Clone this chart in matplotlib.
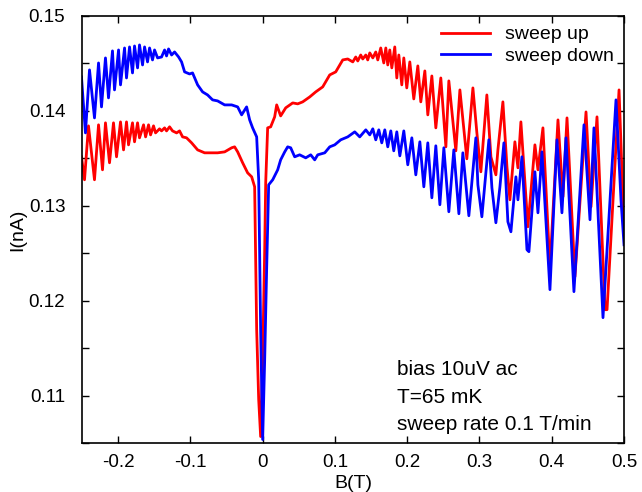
import numpy as np
import matplotlib
matplotlib.use("Agg")
import matplotlib.pyplot as plt

plt.rcParams['font.family'] = ['Liberation Sans', 'DejaVu Sans']

# sweep up (red)
b_up = [-0.2507, -0.2465, -0.2410, -0.2327, -0.2271, -0.2216, -0.2175, -0.2119, -0.2064, -0.2022,
        -0.1967, -0.1925, -0.1884, -0.1856, -0.1801, -0.1773, -0.1731, -0.1704, -0.1648, -0.1620,
        -0.1579, -0.1551, -0.1510, -0.1482, -0.1427, -0.1399, -0.1357, -0.1330, -0.1288, -0.1247,
        -0.1191, -0.1150, -0.1108, -0.1053, -0.0983, -0.0900, -0.0803, -0.0706, -0.0623, -0.0526,
        -0.0429, -0.0388, -0.0346, -0.0277, -0.0208, -0.0152, -0.0111, -0.0083, -0.0055, -0.0028,
        0.0, 0.0028, 0.0042, 0.0069, 0.0111, 0.0166, 0.0194, 0.0249, 0.0319, 0.0416,
        0.0485, 0.0554, 0.0651, 0.0734, 0.0831, 0.0928, 0.1011, 0.1108, 0.1177, 0.1247,
        0.1288, 0.1316, 0.1357, 0.1385, 0.1427, 0.1454, 0.1482, 0.1524, 0.1565, 0.1593,
        0.1634, 0.1676, 0.1704, 0.1731, 0.1759, 0.1787, 0.1828, 0.1856, 0.1884, 0.1925,
        0.1953, 0.1994, 0.2036, 0.2091, 0.2147, 0.2188, 0.2244, 0.2285, 0.2341, 0.2396,
        0.2465, 0.2535, 0.2576, 0.2673, 0.2729, 0.2825, 0.2909, 0.2964, 0.3019, 0.3102,
        0.3158, 0.3227, 0.3255, 0.3324, 0.3380, 0.3421, 0.3490, 0.3532, 0.3573, 0.3670,
        0.3767, 0.3809, 0.3878, 0.3975, 0.4086, 0.4155, 0.4211, 0.4321, 0.4474, 0.4543,
        0.4626, 0.4737, 0.4765, 0.4931, 0.5000]
i_up = [0.13516, 0.13274, 0.13842, 0.13274, 0.13853, 0.13379, 0.13874, 0.13453, 0.13874, 0.13516,
        0.13884, 0.13589, 0.13884, 0.13642, 0.13874, 0.13674, 0.13874, 0.13716, 0.13853, 0.13726,
        0.13853, 0.13747, 0.13842, 0.13768, 0.13811, 0.13789, 0.13821, 0.13789, 0.13832, 0.13789,
        0.13768, 0.13789, 0.13726, 0.13716, 0.13663, 0.13589, 0.13558, 0.13558, 0.13558, 0.13568,
        0.13611, 0.13621, 0.13568, 0.13453, 0.13347, 0.13305, 0.13200, 0.11695, 0.10958, 0.10568,
        0.11379, 0.12537, 0.13242, 0.13821, 0.13832, 0.13937, 0.14063, 0.13947, 0.14032, 0.14084,
        0.14074, 0.14095, 0.14147, 0.14200, 0.14253, 0.14379, 0.14411, 0.14537, 0.14547, 0.14516,
        0.14568, 0.14526, 0.14589, 0.14547, 0.14589, 0.14537, 0.14611, 0.14558, 0.14621, 0.14537,
        0.14663, 0.14505, 0.14663, 0.14484, 0.14642, 0.14453, 0.14674, 0.14347, 0.14589, 0.14274,
        0.14558, 0.14242, 0.14516, 0.14126, 0.14474, 0.14095, 0.14421, 0.13958, 0.14368, 0.13821,
        0.14347, 0.13621, 0.14316, 0.13579, 0.14221, 0.13495, 0.14242, 0.13768, 0.13358, 0.14168,
        0.13516, 0.13326, 0.13589, 0.14095, 0.13411, 0.13063, 0.13674, 0.13400, 0.13884, 0.12779,
        0.13642, 0.13379, 0.13821, 0.12347, 0.13905, 0.13095, 0.13926, 0.12253, 0.13989, 0.12989,
        0.13937, 0.11905, 0.11905, 0.14221, 0.12747]

# sweep down (blue)
b_down = [-0.2507, -0.2452, -0.2396, -0.2327, -0.2271, -0.2230, -0.2175, -0.2133, -0.2078, -0.2050,
          -0.1994, -0.1967, -0.1911, -0.1884, -0.1842, -0.1801, -0.1773, -0.1731, -0.1704, -0.1662,
          -0.1634, -0.1593, -0.1565, -0.1524, -0.1496, -0.1454, -0.1399, -0.1357, -0.1330, -0.1302,
          -0.1260, -0.1219, -0.1163, -0.1122, -0.1080, -0.1011, -0.0970, -0.0900, -0.0831, -0.0762,
          -0.0693, -0.0623, -0.0526, -0.0429, -0.0346, -0.0291, -0.0222, -0.0180, -0.0139, -0.0083,
          -0.0055, -0.0028, 0.0, 0.0028, 0.0055, 0.0083, 0.0139, 0.0208, 0.0249, 0.0305,
          0.0346, 0.0388, 0.0443, 0.0512, 0.0596, 0.0665, 0.0720, 0.0762, 0.0859, 0.0928,
          0.0997, 0.1080, 0.1177, 0.1274, 0.1343, 0.1427, 0.1482, 0.1524, 0.1565, 0.1607,
          0.1648, 0.1690, 0.1731, 0.1773, 0.1814, 0.1856, 0.1898, 0.1953, 0.2008, 0.2064,
          0.2119, 0.2175, 0.2230, 0.2285, 0.2341, 0.2396, 0.2452, 0.2507, 0.2576, 0.2645,
          0.2715, 0.2770, 0.2853, 0.2950, 0.2978, 0.3033, 0.3130, 0.3172, 0.3227, 0.3283,
          0.3338, 0.3393, 0.3435, 0.3504, 0.3532, 0.3587, 0.3657, 0.3684, 0.3767, 0.3809,
          0.3864, 0.3975, 0.4072, 0.4141, 0.4197, 0.4307, 0.4446, 0.4529, 0.4584, 0.4709,
          0.4889, 0.4958, 0.5000]
i_down = [0.14358, 0.13768, 0.14432, 0.13926, 0.14505, 0.14042, 0.14558, 0.14137, 0.14632, 0.14221,
          0.14642, 0.14274, 0.14663, 0.14347, 0.14674, 0.14400, 0.14684, 0.14453, 0.14695, 0.14484,
          0.14674, 0.14516, 0.14663, 0.14537, 0.14642, 0.14558, 0.14568, 0.14642, 0.14579, 0.14653,
          0.14589, 0.14621, 0.14568, 0.14516, 0.14411, 0.14389, 0.14400, 0.14274, 0.14200, 0.14168,
          0.14116, 0.14105, 0.14063, 0.14063, 0.14042, 0.13958, 0.14042, 0.13905, 0.13821, 0.13726,
          0.13274, 0.11695, 0.10537, 0.11379, 0.12326, 0.13221, 0.13274, 0.13379, 0.13484, 0.13568,
          0.13621, 0.13611, 0.13516, 0.13537, 0.13505, 0.13537, 0.13484, 0.13537, 0.13558, 0.13621,
          0.13642, 0.13695, 0.13726, 0.13779, 0.13726, 0.13800, 0.13747, 0.13811, 0.13695, 0.13800,
          0.13663, 0.13800, 0.13621, 0.13789, 0.13579, 0.13779, 0.13526, 0.13789, 0.13432, 0.13716,
          0.13326, 0.13674, 0.13200, 0.13663, 0.13084, 0.13632, 0.13011, 0.13611, 0.12937, 0.13589,
          0.12916, 0.13558, 0.12895, 0.13716, 0.13221, 0.12884, 0.13695, 0.13189, 0.12821, 0.13200,
          0.13663, 0.12832, 0.12726, 0.13305, 0.13063, 0.13516, 0.12537, 0.12516, 0.13358, 0.12926,
          0.13568, 0.12116, 0.13695, 0.12926, 0.13716, 0.12095, 0.13853, 0.12853, 0.13821, 0.11821,
          0.14116, 0.13063, 0.12589]

x_ticks = [-0.2, -0.1, 0, 0.1, 0.2, 0.3, 0.4, 0.5]
x_labels = ['-0.2', '-0.1', '0', '0.1', '0.2', '0.3', '0.4', '0.5']
y_ticks = [0.105, 0.11, 0.115, 0.12, 0.125, 0.13, 0.135, 0.14, 0.145, 0.15]
y_labels = ['', '0.11', '', '0.12', '', '0.13', '', '0.14', '', '0.15']

notes = ['bias 10uV ac', 'T=65 mK', 'sweep rate 0.1 T/min']

fig = plt.figure(figsize=(6.42, 4.92), dpi=100)
ax = fig.add_axes([0.1277, 0.0996, 0.8443, 0.8679])

ax.plot(b_up, i_up, color='#ff0000', lw=2, label='sweep up')
ax.plot(b_down, i_down, color='#0000ff', lw=2, label='sweep down')

ax.set_xlim(-0.25, 0.5)
ax.set_ylim(0.105, 0.15)
ax.set_xticks(x_ticks)
ax.set_xticklabels(x_labels)
ax.set_yticks(y_ticks)
ax.set_yticklabels(y_labels)
ax.tick_params(direction='in', top=True, right=True, length=5, width=1, labelsize=13.5)
ax.tick_params(axis='y', pad=12)
ax.tick_params(axis='x', pad=8)
for s in ax.spines.values():
    s.set_linewidth(1.2)

ax.set_xlabel('B(T)', fontsize=14, labelpad=3)
ax.set_ylabel('I(nA)', fontsize=14, labelpad=2)

ax.legend(loc='upper right', frameon=False, fontsize=14, handlelength=2.5,
          handletextpad=0.8, labelspacing=0.2, borderaxespad=0.2, borderpad=0.3)

for k, t in enumerate(notes):
    ax.text(0.581, 0.171 - k * 0.064, t, transform=ax.transAxes, fontsize=15, va='center')

fig.savefig('out.png', dpi=100)
